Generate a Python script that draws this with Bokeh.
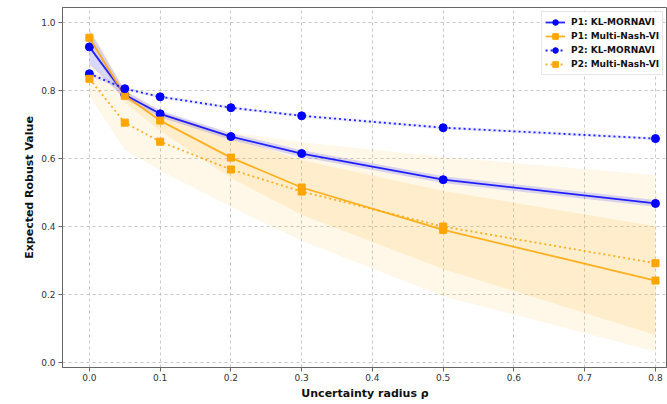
from bokeh.plotting import figure
from bokeh.models import Range1d, FixedTicker, PrintfTickFormatter, Legend, LegendItem
from bokeh.embed import file_html
from bokeh.resources import INLINE

# ---- data ----
rho = [0.0, 0.05, 0.1, 0.2, 0.3, 0.5, 0.8]

p1_kl = [0.929, 0.788, 0.732, 0.665, 0.615, 0.538, 0.468]
p1_kl_sd = [0.05, 0.012, 0.01, 0.01, 0.01, 0.01, 0.01]

p1_mn = [0.956, 0.785, 0.712, 0.603, 0.515, 0.390, 0.241]
p1_mn_sd = [0.03, 0.02, 0.03, 0.06, 0.08, 0.115, 0.16]

p2_kl = [0.850, 0.806, 0.782, 0.750, 0.726, 0.691, 0.659]
p2_kl_sd = [0.008, 0.005, 0.005, 0.005, 0.005, 0.005, 0.005]

p2_mn = [0.835, 0.706, 0.650, 0.568, 0.503, 0.400, 0.292]
p2_mn_sd = [0.05, 0.08, 0.085, 0.11, 0.145, 0.205, 0.26]

x_ticks = [0.0, 0.1, 0.2, 0.3, 0.4, 0.5, 0.6, 0.7, 0.8]
y_ticks = [0.0, 0.2, 0.4, 0.6, 0.8, 1.0]

labels = ["P1: KL-MORNAVI", "P1: Multi-Nash-VI", "P2: KL-MORNAVI", "P2: Multi-Nash-VI"]

BLUE = "#0000ff"
ORANGE = "#ffa500"
FONT = "DejaVu Sans"

p = figure(frame_width=605, frame_height=360, output_backend="svg", toolbar_location=None,
           x_range=Range1d(-0.038, 0.817), y_range=Range1d(-0.015, 1.045),
           min_border_left=62, min_border_right=0, min_border_top=7, min_border_bottom=37)

def band(mean, sd, color, alpha):
    lo = [m - s for m, s in zip(mean, sd)]
    hi = [m + s for m, s in zip(mean, sd)]
    p.varea(x=rho, y1=lo, y2=hi, fill_color=color, fill_alpha=alpha)

band(p2_mn, p2_mn_sd, ORANGE, 0.09)
band(p1_mn, p1_mn_sd, ORANGE, 0.12)
band(p1_kl, p1_kl_sd, BLUE, 0.15)
band(p2_kl, p2_kl_sd, BLUE, 0.08)

series = [
    (p1_kl, BLUE, "solid", "circle", 8),
    (p1_mn, ORANGE, "solid", "square", 7),
    (p2_kl, BLUE, "2 3", "circle", 8),
    (p2_mn, ORANGE, "2 3", "square", 7),
]
items = []
for (vals, col, dash, mk, sz), lab in zip(series, labels):
    lr = p.line(rho, vals, line_color=col, line_width=1.8, line_alpha=0.85, line_dash=dash)
    sr = p.scatter(rho, vals, marker=mk, size=sz, fill_color=col, line_color=col)
    items.append(LegendItem(label=lab, renderers=[lr, sr]))

legend = Legend(items=items, location="top_right",
                label_text_font=FONT, label_text_font_style="bold", label_text_font_size="9px",
                label_text_color="#111111",
                glyph_width=20, glyph_height=14, label_height=14, spacing=0, padding=3, margin=4,
                label_standoff=6, border_line_color="#cccccc", border_line_width=1,
                background_fill_color="white", background_fill_alpha=0.85)
p.add_layout(legend)

# axes
p.xaxis.ticker = FixedTicker(ticks=x_ticks)
p.yaxis.ticker = FixedTicker(ticks=y_ticks)
p.xaxis.formatter = PrintfTickFormatter(format="%.1f")
p.yaxis.formatter = PrintfTickFormatter(format="%.1f")
for ax in (p.xaxis, p.yaxis):
    ax.major_label_text_font = FONT
    ax.major_label_text_font_size = "9px"
    ax.major_label_text_color = "#333333"
    ax.axis_label_text_font = FONT
    ax.axis_label_text_font_style = "bold"
    ax.axis_label_text_font_size = "11px"
    ax.axis_label_text_color = "#111111"
    ax.axis_line_color = "#666666"
    ax.major_tick_line_color = "#666666"
    ax.major_tick_out = 4
    ax.major_tick_in = 0
    ax.minor_tick_line_color = None
p.xaxis.axis_label = "Uncertainty radius ρ"
p.yaxis.axis_label = "Expected Robust Value"
p.xaxis.major_label_standoff = 2
p.xaxis.axis_label_standoff = 3
p.yaxis.major_label_standoff = 3
p.yaxis.axis_label_standoff = 2

p.grid.grid_line_color = "#b0b0b0"
p.grid.grid_line_alpha = 0.7
p.grid.grid_line_dash = "3 3"
p.outline_line_color = "#666666"
p.outline_line_width = 1
p.background_fill_color = "white"
p.border_fill_color = "white"

open("out.html", "w").write(file_html(p, INLINE))
